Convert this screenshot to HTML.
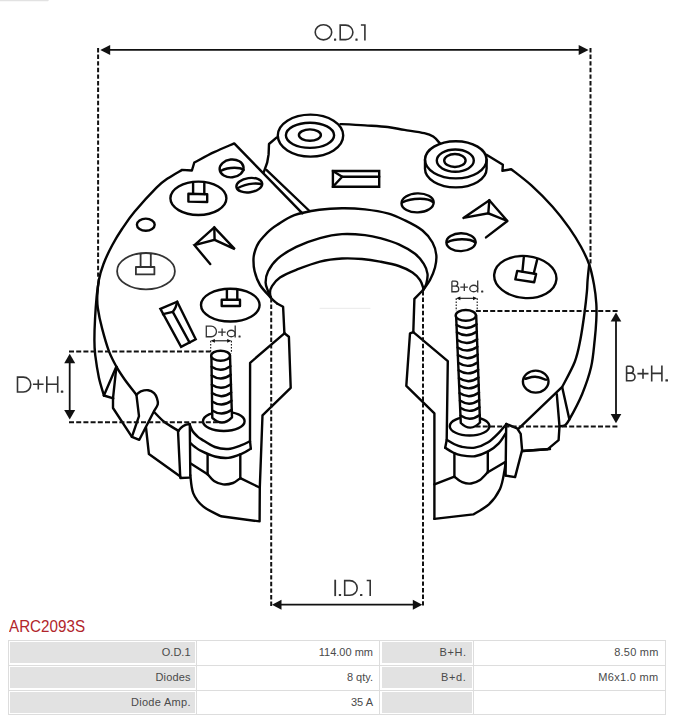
<!DOCTYPE html>
<html><head><meta charset="utf-8">
<style>
html,body{margin:0;padding:0;background:#fff;}
body{width:677px;height:720px;position:relative;overflow:hidden;font-family:"Liberation Sans",sans-serif;}
#dwg{position:absolute;left:0;top:0;}
#title{position:absolute;left:9px;top:618px;font-size:15.6px;line-height:18px;color:#b1252b;transform:scaleX(0.975);transform-origin:0 0;white-space:nowrap;}
.ln{position:absolute;background:#dddddd;}
.g{position:absolute;background:#e2e2e2;height:21px;}
.t{position:absolute;font-size:11px;line-height:13px;color:#4a4a4a;text-align:right;white-space:nowrap;}
</style></head><body>
<svg id="dwg" width="677" height="720" viewBox="0 0 677 720">
<g id="art" fill="none" stroke="#050505" stroke-width="2.4" stroke-linejoin="round" stroke-linecap="round">
<!-- ART -->
<path d="M136.4 394.7 C134.4 392.1 127.8 383.9 124.5 379.2 C121.2 374.5 119 371.3 116.4 366.6 C113.8 361.9 111.3 357.4 108.9 351.1 C106.5 344.8 104.1 336.1 102.2 328.9 C100.3 321.7 98.6 313.6 97.8 308 C97 302.4 97.1 300.3 97.3 295.6 C97.5 290.9 97.9 285.3 98.9 280 C99.9 274.7 101.3 269.8 103.5 264 C105.7 258.2 109.1 251 112.2 245.2 C115.3 239.4 118.3 234.5 122 229 C125.7 223.5 128.6 218.9 134.3 212 C140.1 205.1 150.9 193.2 156.5 187.6 C162.1 182 163.8 181.2 168 178.3 C172.2 175.4 179.7 171.3 182 169.9 L191.9 170.5 L194.3 162.5 C197.6 160.8 207.4 155.4 214.1 152.2 C220.8 149 230.8 144.9 234.2 143.4 L302.4 213.3"/>
<path d="M98.9 279.5 C98.5 282.4 97.2 290.6 96.6 297 C96 303.4 95.5 310.6 95.1 317.8 C94.7 325 94.4 333.8 94.4 340 C94.4 346.2 94.5 348.5 95.2 354.8 C96 361.1 97.5 371 98.9 377.8 C100.4 384.6 103.1 392.6 103.9 395.5"/>
<path d="M103.9 395.5 L113.3 398.3"/>
<path d="M103.9 395.5 L116.4 366.6"/>
<path d="M116.4 366.6 L113 398.4 L113 408 L131.9 436.8 L139.3 439.8 L154.1 411"/>
<path d="M136.4 394.7 L139 416.1 L131.9 436.8"/>
<path d="M136.4 394.7 C137.1 394.1 138.8 392.1 140.8 391.3 C142.8 390.6 146 389.9 148.2 390.2 C150.4 390.5 152.6 391.8 154.1 393.2 C155.6 394.6 156.4 396.5 157 398.4 C157.6 400.2 158.3 402.2 157.8 404.3 C157.3 406.4 154.7 409.9 154.1 411"/>
<path d="M154.6 412.5 C156.2 414.1 160.4 418.9 164.4 422 C168.4 425.1 176.2 429.4 178.5 430.9"/>
<path d="M178.5 430.9 C178.8 430.5 179.5 429.2 180.5 428.3 C181.5 427.4 182.9 426 184.5 425.3 C186.1 424.6 188.9 424.2 189.8 424"/>
<path d="M178 430.9 L180.3 478 L189.6 477.6"/>
<path d="M146 427.5 L148.9 454 L180.3 476.4"/>
<path d="M189.8 424.8 L190.3 475.3"/>
<path d="M189.8 424.8 C190.2 425.8 191.3 429.1 192.5 431 C193.7 432.9 195.5 434.6 197 436 C198.5 437.4 198.6 437.6 201.6 439.4 C204.6 441.2 210.5 445.4 214.9 447 C219.3 448.6 223.8 449.3 228.2 449 C232.6 448.7 237.9 446.5 241.5 445.2 C245.1 443.9 248.6 441.9 250 441.2"/>
<path d="M250 441.2 L250.8 448.7"/>
<path d="M250.8 448.7 C249.2 449.6 245.3 452.4 241.5 453.9 C237.7 455.4 232.6 457.5 228.2 457.9 C223.8 458.3 219.3 457.6 214.9 456.5 C210.5 455.4 204.9 452.8 201.6 451.2 C198.3 449.6 196.9 448.4 195 447 C193.1 445.6 191.1 443.7 190.3 443"/>
<path d="M207.6 454.5 L207.6 474.2"/>
<path d="M240.3 454.5 L240.3 478.2"/>
<path d="M207.6 474.2 C208.7 475.3 211.4 479.3 214 481 C216.6 482.7 219.9 484.1 223.1 484.4 C226.3 484.7 230.1 484 233 483 C235.9 482 239.1 479 240.3 478.2"/>
<path d="M190.3 463.2 L207.6 474.2"/>
<path d="M240.3 478.2 L259.6 487.5"/>
<path d="M190.3 475.3 C190.8 478.3 191.1 487.9 193.2 493.1 C195.3 498.3 198.5 502.5 203.1 506.4 C207.7 510.3 217.9 514.6 220.9 516.3 L259.6 521.4 L259.8 487.5 L262.5 415.3 L290.7 387.8 L288.9 336.7 L284.4 333.3"/>
<path d="M284.4 333.3 L250.1 362.8 L250 441"/>
<ellipse cx="231.6" cy="168.4" rx="12" ry="8.9" transform="rotate(-6 231.6 168.4)"/>
<path d="M220.6 171 C224.5 169 230 167.8 234.5 167.8 C238.5 167.8 242 168.8 243.7 170"/>
<ellipse cx="249.3" cy="185.2" rx="13" ry="7.1" transform="rotate(-8 249.3 185.2)"/>
<path d="M237.4 188.3 C241.5 186 247.5 184 253 183.6 C256.5 183.4 260 183.6 261.8 184.3"/>
<ellipse cx="198.4" cy="198.3" rx="28" ry="16.7"/>
<path d="M188.4 193.8 L207.2 194.2 L207.2 202 L188.4 201.6 Z"/>
<path d="M193.1 193.8 L193.1 183.5"/>
<path d="M204.3 194 L204.3 183.5"/>
<ellipse cx="145.8" cy="224.7" rx="8.9" ry="6.1"/>
<ellipse cx="146" cy="271.2" rx="28.9" ry="18.2" stroke="#333" stroke-width="1.8"/>
<path d="M135.9 267 L154.4 267 L154.4 274.4 L135.9 274.4 Z" stroke="#333" stroke-width="1.8"/>
<path d="M140.6 267 L140.6 254.3" stroke="#333" stroke-width="1.8"/>
<path d="M150.8 267 L150.8 254.3" stroke="#333" stroke-width="1.8"/>
<ellipse cx="230.3" cy="305.1" rx="29.3" ry="16.4"/>
<path d="M221.7 299.8 L240 299.8 L240 306 L221.7 306 Z"/>
<path d="M226.9 299.8 L226.9 289.5"/>
<path d="M237.3 299.8 L237.3 289.5"/>
<path d="M194.5 245.2 L214.3 227.4 L234.8 249.1 L214.6 239.8 L194.5 245.2 L210.2 264.1" stroke-linejoin="miter"/>
<path d="M214.3 227.4 L214.6 239.8"/>
<path d="M160.4 308.9 L177.2 301.7 L195.7 339.3 L181.1 346.8 Z" stroke-linejoin="miter"/>
<path d="M163 314.2 L172.8 311.9 L189.6 342.6"/>
<path d="M177.2 301.7 C176.9 302.6 176.3 305.6 175.6 307.3 C174.9 309 173.3 311.1 172.8 311.9"/>
<path d="M266.4 169.9 L309.5 211"/>
<path d="M276.8 137.4 L269 144 L268.6 154.4 L267.2 162.5 L263.8 172.1"/>
<ellipse cx="310.5" cy="135.6" rx="32.7" ry="21"/>
<ellipse cx="310" cy="135.3" rx="24.1" ry="12.6"/>
<ellipse cx="309.9" cy="135.1" rx="11" ry="5.7"/>
<path d="M340.4 124.1 C344.5 124.3 357.1 124.9 365 125.4 C372.9 125.9 381.1 126.2 387.7 127 C394.3 127.8 398.3 128.9 404.4 129.9 C410.5 130.9 419.5 132.1 424.3 133.2 C429.1 134.3 430.6 134.9 433.2 136.6 C435.8 138.3 438.7 142.1 439.8 143.2"/>
<ellipse cx="455.8" cy="159.8" rx="30.8" ry="18.6"/>
<ellipse cx="455.3" cy="160.6" rx="18.5" ry="11.1"/>
<ellipse cx="454.9" cy="160.5" rx="10.7" ry="6.5"/>
<path d="M425 159.8 L425 168.8 A30.8 18.6 0 0 0 486.6 168.8 L486.6 159.8"/>
<path d="M486.5 154.7 L502.9 164.7 L502.4 170.8 L511.2 169.2 C514.6 171.9 524.5 179.2 531.4 185.4 C538.3 191.7 546.3 199.6 552.6 206.7 C558.9 213.8 564.5 221.2 569.2 227.9 C573.9 234.6 577.7 240.7 581 246.8 C584.3 252.9 587 258.2 589.2 264.5 C591.4 270.8 592.8 278.1 594 284.6 C595.2 291.1 595.9 297.6 596.3 303.5 C596.7 309.4 596.6 313.9 596.3 320 C596 326.1 595.6 332.1 594.7 340 C593.8 347.9 593.2 358.1 591.1 367.1 C589 376.1 585.7 385.5 582.1 394.2 C578.5 402.9 572.3 414.2 569.4 419.4 C566.5 424.6 566.5 424 564.9 425.2 C563.2 426.4 560.4 426.1 559.5 426.3"/>
<path d="M589.2 264.5 C588.9 267.1 588 275.5 587.6 280 C587.2 284.5 587.4 286.2 586.9 291.7 C586.4 297.2 585.6 304.9 584.5 313 C583.4 321.1 581.9 331.9 580.3 340 C578.7 348.1 577.8 353.9 574.8 361.7 C571.8 369.5 564.3 382.7 562.2 386.9 L518.9 428.4"/>
<path d="M562.2 387.3 L569.4 419.4"/>
<path d="M556.8 394.2 L559.5 426.3 L558.6 440.2 L547.8 449.2 L522.5 451"/>
<path d="M506.2 423.9 L517.1 428.4 L520.7 433.9 L522.1 450.1 L515.1 477.1 L505.6 475.6"/>
<path d="M506.2 423.9 L505.6 475.6"/>
<path d="M332.9 171 L379.2 171 L379.2 186.8 L332.9 186.8 Z" stroke-linejoin="miter"/>
<path d="M332.9 171 L342.2 176.8 L332.9 186.8"/>
<path d="M342.2 176.8 L379.2 176.8"/>
<ellipse cx="417.6" cy="202.9" rx="16.1" ry="9.5" transform="rotate(-2 417.6 202.9)"/>
<path d="M402.2 202.5 C406 200.5 413 198.9 420 198.8 C425.5 198.8 431 200.2 433 202.2"/>
<ellipse cx="461" cy="242.2" rx="14.6" ry="8.9" transform="rotate(-1 461 242.2)"/>
<path d="M447 242.3 C451 240.4 457 239.3 462 239.3 C467.5 239.3 473 240.5 475.4 242.5"/>
<path d="M463.4 217.9 L489.3 200.3 L507.4 221 L488.3 213.3 L463.4 217.9" stroke-linejoin="miter"/>
<path d="M489.3 200.3 L488.3 213.3"/>
<path d="M507.4 221 L486 237.4"/>
<ellipse cx="525.3" cy="277" rx="31.2" ry="21" transform="rotate(5 525.3 277)"/>
<path d="M517.2 270.9 L536.1 274 L534.2 282.2 L515.3 279.4 Z"/>
<path d="M523.8 257.4 L522.4 271.6"/>
<path d="M537.3 259.1 L533.8 273.3"/>
<ellipse cx="535.7" cy="381.6" rx="12.8" ry="11"/>
<path d="M525.2 378.8 C526.9 378.5 531.6 376.7 535.1 376.8 C538.6 376.9 544.2 379.2 546 379.7"/>
<path d="M270.6 297.5 C268.8 295.4 262.7 289.4 260 285 C257.3 280.6 255.7 275.7 254.6 271.3 C253.5 266.9 253.4 262.4 253.5 258.8 C253.6 255.2 254.4 252.7 255.3 250 C256.2 247.3 257.3 244.8 258.8 242.5 C260.3 240.2 262.3 238.1 264.2 236 C266.1 233.9 267.9 232 270 230.2 C272.1 228.4 272.9 227.5 277 225 C281.1 222.5 287.3 217.6 294.4 215.1 C301.4 212.6 311.4 211 319.3 209.8 C327.2 208.7 334.4 208.3 342 208.2 C349.6 208.1 357.4 208.5 365 209.4 C372.6 210.3 381 211.6 387.7 213.4 C394.4 215.2 399.2 217.6 405 220.4 C410.8 223.2 417.9 226.8 422.5 230.5 C427.1 234.2 430.2 238.4 432.5 242.5 C434.8 246.6 435.9 250.8 436.3 255 C436.7 259.2 436.1 263.3 435 267.5 C433.9 271.7 432 276.2 430 280 C428 283.8 424.2 288.3 423.1 290"/>
<path d="M270.6 297.5 C270.2 296.5 268.9 293.8 268.1 291.3 C267.3 288.8 265.6 285.8 265.6 282.5 C265.6 279.2 266.1 275.2 268.1 271.3 C270.1 267.4 272.8 262.9 277.5 258.8 C282.2 254.7 289.2 250.4 296.3 246.9 C303.4 243.4 312.4 240.2 320 238.1 C327.6 236 334.5 234.6 342 234.1 C349.5 233.6 358.7 234.4 365 235.1 C371.3 235.8 374.4 236.5 380 238.1 C385.6 239.7 393 241.8 398.8 244.4 C404.6 247 410.8 250.6 415 253.8 C419.2 257 421.7 260.5 423.8 263.8 C425.9 267.1 427.1 270.5 427.5 273.8 C427.9 277.1 427 281.1 426.3 283.8 C425.6 286.5 423.6 289 423.1 290"/>
<path d="M277.5 303.8 C276.5 302.9 272.6 300 271.3 298.1 C270.1 296.2 269.9 294.5 270 292.5 C270.1 290.5 270.2 288.8 271.9 286.3 C273.6 283.8 275.9 280.2 280 277.5 C284.1 274.8 289.6 272.4 296.3 269.8 C303 267.2 312.4 263.5 320 261.6 C327.6 259.7 335 258.9 342 258.5 C349 258.1 355.7 258.5 362 259 C368.3 259.5 373.9 260.4 380 261.6 C386.1 262.8 393.4 264.2 398.8 266 C404.2 267.8 409 270.2 412.5 272.5 C416 274.8 418.2 277.5 420 280 C421.8 282.5 422.6 285.8 423.1 287.5 C423.6 289.2 423.1 289.6 423.1 290"/>
<path d="M277.5 303.8 L283.1 306.8 L284.4 333.3"/>
<path d="M423.1 290 L414.4 298.9 L413.3 332.2"/>
<path d="M413.3 332.2 L410 333.3 L406.3 385.8 L434.4 413.3 L434.4 518.9"/>
<path d="M413.3 332.2 L447.8 361.1 L446.7 440 L445.2 447.8"/>
<path d="M434.4 518.9 L473.3 514.4 C475.9 512.7 484.4 508.6 488.9 504.4 C493.3 500.1 497.4 494.4 500 488.9 C502.6 483.3 503.5 475.6 504.4 471.1 C505.3 466.7 505.4 463.7 505.6 462.2"/>
<path d="M446.7 439.8 C447.9 440.5 451.5 442.8 454 444 C456.5 445.2 458.1 446.2 461.6 446.8 C465.1 447.4 470.5 448.4 474.9 447.6 C479.3 446.8 484.2 444.7 488.2 442.2 C492.2 439.7 495.8 435.8 498.8 432.8 C501.8 429.8 505 425.8 506.2 424.4"/>
<path d="M445.2 447.8 C446.5 448.6 450.3 451.2 453 452.5 C455.7 453.8 458 454.8 461.6 455.4 C465.2 456 470.5 456.9 474.9 456.2 C479.3 455.5 484.2 453.5 488.2 451.4 C492.2 449.3 495.9 446.4 498.8 443.4 C501.7 440.4 504.5 435.1 505.6 433.5"/>
<path d="M454.4 453.2 L454.4 476.7"/>
<path d="M487.8 451.6 L487.8 472.2"/>
<path d="M454.4 476.7 C455.7 477.6 459.4 481.1 462.2 482.2 C465 483.3 468.1 483.9 471.1 483.5 C474.1 483.1 477.2 481.9 480 480 C482.8 478.1 486.5 473.5 487.8 472.2"/>
<path d="M434.4 484.4 L454.4 476.7"/>
<path d="M487.8 472.2 L504.8 462.2"/>
<path d="M522.1 451 L550 449"/>
<ellipse cx="223.8" cy="421.3" rx="20.8" ry="9.7"/>
<path d="M211.4 355.7 L212.3 417.8 Q222.2 427.3 232 417.3 L230 355.7 Z" fill="#fff"/>
<ellipse cx="220.6" cy="355.7" rx="9.4" ry="5" fill="#fff"/>
<path d="M211.6 366.7 Q221 373.1 230.4 366.1"/>
<path d="M211.7 375.4 Q221.2 381.8 230.7 374.8"/>
<path d="M211.8 384.7 Q221.4 391.1 231 384.1"/>
<path d="M212 393.1 Q221.6 399.5 231.2 392.5"/>
<path d="M212.1 401.4 Q221.8 407.8 231.5 400.8"/>
<path d="M212.2 410.4 Q222 416.8 231.8 409.8"/>
<ellipse cx="469.6" cy="426.2" rx="19.8" ry="9.3"/>
<path d="M456.1 315.4 L460.8 423 Q470.4 432.5 480 422.5 L476.2 315.4 Z" fill="#fff"/>
<ellipse cx="465.8" cy="315.4" rx="10.1" ry="5.4" fill="#fff"/>
<path d="M456.6 324.9 Q466.6 331.3 476.6 324.3"/>
<path d="M456.9 332.2 Q466.9 338.6 476.9 331.6"/>
<path d="M457.3 339.9 Q467.2 346.3 477.2 339.3"/>
<path d="M457.6 347.4 Q467.5 353.8 477.4 346.8"/>
<path d="M457.9 355.1 Q467.8 361.5 477.7 354.5"/>
<path d="M458.3 362.8 Q468.1 369.2 477.9 362.2"/>
<path d="M458.6 370.3 Q468.4 376.7 478.2 369.7"/>
<path d="M458.9 378.1 Q468.7 384.5 478.5 377.5"/>
<path d="M459.2 385.3 Q469 391.7 478.7 384.7"/>
<path d="M459.5 393.1 Q469.3 399.5 479 392.5"/>
<path d="M459.9 400.6 Q469.5 407 479.2 400"/>
<path d="M460.2 407.8 Q469.8 414.2 479.5 407.2"/>
<path d="M460.5 415.6 Q470.1 422 479.8 415"/>
<path d="M320 308.3 L370 308.3" stroke="#e9e9e9" stroke-width="1"/>
<path d="M0 0.5 L48 0.5" stroke="#e2e2e2" stroke-width="1.4"/>
<!-- /ART -->
</g>
<g id="dims" fill="none" stroke="#111" stroke-width="1.6">
<!-- DIMS -->
<path d="M105 49.9 L584 49.9" stroke-width="1.8"/>
<path d="M100.3 49.9 L110.2 44.9 L110.2 54.9 Z" fill="#111" stroke="none"/>
<path d="M588.6 49.9 L578.7 44.9 L578.7 54.9 Z" fill="#111" stroke="none"/>
<path d="M98.1 48 L98.1 279" stroke-dasharray="4.4 2.2" stroke-width="2"/>
<path d="M590.5 48 L590.5 265" stroke-dasharray="4.4 2.2" stroke-width="2"/>
<path d="M277 604.7 L417 604.7" stroke-width="1.8"/>
<path d="M272 604.7 L281.5 599.7 L281.5 609.7 Z" fill="#111" stroke="none"/>
<path d="M422.3 604.7 L412.8 599.7 L412.8 609.7 Z" fill="#111" stroke="none"/>
<path d="M271.2 298 L271.2 606.5" stroke-dasharray="4.4 2.2" stroke-width="2"/>
<path d="M423 291 L423 606.5" stroke-dasharray="4.4 2.2" stroke-width="2"/>
<path d="M69 351.6 L213 351.6" stroke-dasharray="5 2.2" stroke-width="2"/>
<path d="M69 422.2 L220.5 422.2" stroke-dasharray="5 2.2" stroke-width="2"/>
<path d="M69.7 360 L69.7 413" stroke-width="1.8"/>
<path d="M69.7 353.7 L64.2 363.2 L75.2 363.2 Z" fill="#111" stroke="none"/>
<path d="M69.7 419.5 L64.2 410 L75.2 410 Z" fill="#111" stroke="none"/>
<path d="M475.8 311 L617.6 311" stroke-dasharray="5 2.2" stroke-width="2"/>
<path d="M475.6 426.4 L617.6 426.4" stroke-dasharray="5 2.2" stroke-width="2"/>
<path d="M616 318 L616 417" stroke-width="1.8"/>
<path d="M616 312.4 L610.7 321.4 L621.3 321.4 Z" fill="#111" stroke="none"/>
<path d="M616 423.2 L610.7 414 L621.3 414 Z" fill="#111" stroke="none"/>
<path d="M212.7 340.8 L229.4 340.8" stroke-width="1.1"/>
<path d="M210.7 340.8 L214.9 338.9 L214.9 342.7 Z" fill="#111" stroke="none"/>
<path d="M231.4 340.8 L227.2 338.9 L227.2 342.7 Z" fill="#111" stroke="none"/>
<path d="M210.7 340.8 L210.7 353.5" stroke-dasharray="1.6 1.5" stroke-width="1.1"/>
<path d="M231.4 340.8 L231.4 353.5" stroke-dasharray="1.6 1.5" stroke-width="1.1"/>
<path d="M458.2 298.3 L475.2 298.3" stroke-width="1.1"/>
<path d="M456.2 298.3 L460.4 296.4 L460.4 300.2 Z" fill="#111" stroke="none"/>
<path d="M477.2 298.3 L473 296.4 L473 300.2 Z" fill="#111" stroke="none"/>
<path d="M456.2 298.3 L456.2 311" stroke-dasharray="1.6 1.5" stroke-width="1.1"/>
<path d="M477.2 298.3 L477.2 311" stroke-dasharray="1.6 1.5" stroke-width="1.1"/>
<!-- /DIMS -->
</g>
<g id="labels" fill="none" stroke="#333" stroke-linecap="butt" stroke-linejoin="miter">
<!-- LABELS -->
<ellipse cx="323.45" cy="32.3" rx="8.25" ry="7.6" stroke-width="1.6"/>
<rect x="334" y="38.5" width="2.2" height="2.2" rx="0.5" fill="#333" stroke="none"/>
<path d="M340.2 25.1 L340.2 39.6 L345.65 39.6 A7.25 7.25 0 0 0 345.65 25.1 Z" stroke-width="1.6"/>
<rect x="355.4" y="38.5" width="2.2" height="2.2" rx="0.5" fill="#333" stroke="none"/>
<path d="M360.9 25 L364.9 25 L364.9 40.5" stroke-width="1.6"/>
<path d="M335.2 579.7 L335.2 596.1" stroke-width="1.8"/>
<rect x="338.8" y="593.9" width="2.3" height="2.2" rx="0.5" fill="#333" stroke="none"/>
<path d="M344.7 580.6 L344.7 595.3 L349.85 595.3 A7.35 7.35 0 0 0 349.85 580.6 Z" stroke-width="1.6"/>
<rect x="360" y="593.9" width="2.4" height="2.2" rx="0.5" fill="#333" stroke="none"/>
<path d="M366.7 580.5 L370.2 580.5 L370.2 596.1" stroke-width="1.6"/>
<path d="M17.5 377.1 L17.5 392 L23.35 392 A7.45 7.45 0 0 0 23.35 377.1 Z" stroke-width="1.6"/>
<path d="M32.9 384.2 L43.6 384.2 M38.3 379.4 L38.3 389.5" stroke-width="1.6"/>
<path d="M46.8 376.3 L46.8 392.8 M57.7 376.3 L57.7 392.8 M46.8 384.2 L57.7 384.2" stroke-width="1.6"/>
<rect x="60.8" y="390.4" width="2.5" height="2.4" rx="0.5" fill="#333" stroke="none"/>
<path d="M626.6 366.3 L626.6 380.8 L631.17 380.8 A3.82 3.82 0 0 0 631.17 373.15 L626.6 373.15 M630.17 373.15 A3.43 3.43 0 0 0 630.17 366.3 L626.6 366.3" stroke-width="1.6"/>
<path d="M637.4 373.6 L648.5 373.6 M643 368.7 L643 378.8" stroke-width="1.6"/>
<path d="M651.7 365.5 L651.7 381.6 M661.9 365.5 L661.9 381.6 M651.7 373.4 L661.9 373.4" stroke-width="1.6"/>
<rect x="665.4" y="379.3" width="2.6" height="2.3" rx="0.5" fill="#333" stroke="none"/>
<path d="M206.3 326.15 L206.3 336.75 L211.15 336.75 A5.3 5.3 0 0 0 211.15 326.15 Z" stroke-width="1.3"/>
<path d="M218.1 332.2 L225.7 332.2 M222.1 328.4 L222.1 335.9" stroke-width="1.3"/>
<ellipse cx="231.27" cy="333.5" rx="3.92" ry="3.25" stroke-width="1.3"/>
<path d="M235.2 325.5 L235.2 337.4" stroke-width="1.3"/>
<rect x="238.5" y="335.4" width="2.1" height="2" rx="0.5" fill="#333" stroke="none"/>
<path d="M451.9 281.15 L451.9 291.75 L455.9 291.75 A2.85 2.85 0 0 0 455.9 286.05 L451.9 286.05 M455.3 286.05 A2.45 2.45 0 0 0 455.3 281.15 L451.9 281.15" stroke-width="1.3"/>
<path d="M460.3 287.2 L467.9 287.2 M464.3 283.4 L464.3 290.9" stroke-width="1.3"/>
<ellipse cx="473.72" cy="288.5" rx="3.97" ry="3.25" stroke-width="1.3"/>
<path d="M477.7 280.5 L477.7 292.4" stroke-width="1.3"/>
<rect x="481.1" y="290.4" width="2.2" height="2" rx="0.5" fill="#333" stroke="none"/>
<!-- /LABELS -->
</g>
</svg>
<div id="title">ARC2093S</div>
<!-- table lines -->
<div class="ln" style="left:8px;top:640px;width:658px;height:1px"></div>
<div class="ln" style="left:8px;top:665px;width:658px;height:1px"></div>
<div class="ln" style="left:8px;top:690px;width:658px;height:1px"></div>
<div class="ln" style="left:8px;top:714px;width:658px;height:1px"></div>
<div class="ln" style="left:8px;top:640px;width:1px;height:75px"></div>
<div class="ln" style="left:196px;top:640px;width:1px;height:75px"></div>
<div class="ln" style="left:379px;top:640px;width:1px;height:75px"></div>
<div class="ln" style="left:473px;top:640px;width:1px;height:75px"></div>
<div class="ln" style="left:665px;top:640px;width:1px;height:75px"></div>
<div class="g" style="left:10px;top:642px;width:185px"></div>
<div class="g" style="left:10px;top:667px;width:185px"></div>
<div class="g" style="left:10px;top:692px;width:185px"></div>
<div class="g" style="left:382px;top:642px;width:90px"></div>
<div class="g" style="left:382px;top:667px;width:90px"></div>
<div class="g" style="left:382px;top:692px;width:90px"></div>
<div class="t" style="left:60px;width:130.5px;top:646px">O.D.1</div>
<div class="t" style="left:60px;width:130.6px;top:671px;letter-spacing:0.15px">Diodes</div>
<div class="t" style="left:60px;width:130.8px;top:696px;letter-spacing:0.3px">Diode Amp.</div>
<div class="t" style="left:243px;width:130px;top:646px">114.00 mm</div>
<div class="t" style="left:243px;width:130px;top:671px">8 qty.</div>
<div class="t" style="left:243px;width:130px;top:696px">35 A</div>
<div class="t" style="left:336px;width:130.5px;top:646px;letter-spacing:0.55px">B+H.</div>
<div class="t" style="left:336px;width:130.5px;top:671px;letter-spacing:0.65px">B+d.</div>
<div class="t" style="left:528px;width:130.5px;top:646px;letter-spacing:0.2px">8.50 mm</div>
<div class="t" style="left:528px;width:130.5px;top:671px;letter-spacing:0.3px">M6x1.0 mm</div>
</body></html>
